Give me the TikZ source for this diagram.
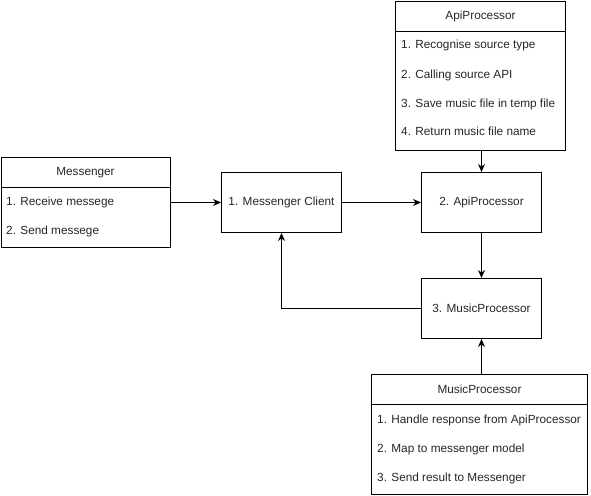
\documentclass[tikz,border=0pt]{standalone}
\usepackage{fontspec}
\setmainfont{Liberation Sans}
\usetikzlibrary{arrows.meta}
\begin{document}
\begin{tikzpicture}[x=1pt,y=-1pt,
  every node/.style={font=\fontsize{11.8}{14}\selectfont, text=black!85},
  box/.style={draw, line width=1pt, rectangle, inner sep=0pt, anchor=north west},
  item/.style={anchor=west, inner sep=0pt},
  arr/.style={line width=1pt, -{Stealth[length=8pt,width=7pt]}}]
\useasboundingbox (0,0) rectangle (591,495);
% Messenger list box
\node[box, minimum width=169pt, minimum height=30pt] (msgh) at (0.5,157) {Messenger};
\node[box, minimum width=169pt, minimum height=60pt] (msgb) at (0.5,187) {};
\node[item] (msg1) at (6,202) {1. Receive messege};
\node[item] (msg2) at (6,231) {2. Send messege};
% flow boxes
\node[box, minimum width=120pt, minimum height=60pt] (mc) at (221,172) {1. Messenger Client};
\node[box, minimum width=120pt, minimum height=60pt] (ap) at (421,172) {2. ApiProcessor};
\node[box, minimum width=120pt, minimum height=60pt] (mp) at (421,278) {3. MusicProcessor};
% ApiProcessor list box
\node[box, minimum width=170pt, minimum height=30pt] (aph) at (395,1) {ApiProcessor};
\node[box, minimum width=170pt, minimum height=119pt] (apb) at (395,31) {};
\node[item] (ap1) at (401,45) {1. Recognise source type};
\node[item] (ap2) at (401,75) {2. Calling source API};
\node[item] (ap3) at (401,104) {3. Save music file in temp file};
\node[item] (ap4) at (401,131) {4. Return music file name};
% MusicProcessor list box
\node[box, minimum width=216pt, minimum height=30pt] (muh) at (371,374) {MusicProcessor};
\node[box, minimum width=216pt, minimum height=90pt] (mub) at (371,404) {};
\node[item] (mu1) at (377,420) {1. Handle response from ApiProcessor};
\node[item] (mu2) at (377,449) {2. Map to messenger model};
\node[item] (mu3) at (377,478) {3. Send result to Messenger};
% connectors
\draw[arr] (msgb.east |- mc.west) -- (mc.west);
\draw[arr] (mc.east) -- (ap.west);
\draw[arr] (apb.south -| ap.north) -- (ap.north);
\draw[arr] (ap.south) -- (mp.north);
\draw[arr] (mp.west) -| (mc.south);
\draw[arr] (muh.north -| mp.south) -- (mp.south);
\end{tikzpicture}
\end{document}
